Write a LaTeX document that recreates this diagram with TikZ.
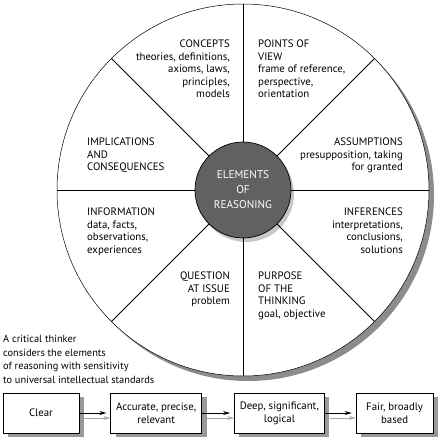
\documentclass[tikz,border=0pt]{standalone}
\usepackage{fontspec}
\setmainfont{PT Sans}
\usetikzlibrary{positioning,shadows,arrows.meta}

\begin{document}
\begin{tikzpicture}
  [x=1pt,y=-1pt,
   every node/.style={font=\fontsize{10.8}{12.5}\selectfont,inner sep=0pt},
   wheel/.style={draw,line width=0.5pt,shape=circle,fill=white,minimum size=372pt,
     drop shadow={shadow xshift=5pt,shadow yshift=-5pt,fill=black!45,opacity=1}},
   hub/.style={draw,line width=0.7pt,shape=circle,fill=black!62,minimum size=96pt,
     text=white,align=center,font=\fontsize{11.2}{15}\selectfont,
     drop shadow={shadow xshift=3pt,shadow yshift=-4pt,fill=black!22,opacity=1}},
   leftblock/.style={anchor=north west,align=left},
   rightblock/.style={anchor=north east,align=right},
   stdbox/.style={draw,line width=0.7pt,fill=white,minimum height=40pt,align=center,
     font=\fontsize{10.8}{13.3}\selectfont,
     drop shadow={shadow xshift=5pt,shadow yshift=-4pt,fill=black!40,opacity=1}},
   link/.style={-{Stealth[length=7pt,width=4pt]},line width=0.7pt,shorten >=4pt},
   linkshade/.style={draw=black!35,-{Stealth[length=7pt,width=4pt]},line width=0.7pt}]

  \useasboundingbox (0,0) rectangle (439,441);

  \node[wheel] (wheel) at (243,190) {};
  \node[hub] (hub) at (243,190) {ELEMENTS\\OF\\REASONING};

  \foreach \a in {0,45,...,315}
    \draw[line width=0.9pt] (hub.\a) -- (wheel.\a);

  \node[rightblock] (concepts) at (230,40) {CONCEPTS\\theories, definitions,\\axioms, laws,\\principles,\\models};
  \node[leftblock] (view) at (258,40) {POINTS OF\\VIEW\\frame of reference,\\perspective,\\orientation};
  \node[rightblock] (assume) at (403,138) {ASSUMPTIONS\\presupposition, taking\\for granted};
  \node[rightblock] (infer) at (403,208) {INFERENCES\\interpretations,\\conclusions,\\solutions};
  \node[leftblock] (purpose) at (258,272) {PURPOSE\\OF THE\\THINKING\\goal, objective};
  \node[rightblock] (question) at (230,272) {QUESTION\\AT ISSUE\\problem};
  \node[leftblock] (info) at (87,208) {INFORMATION\\data, facts,\\observations,\\experiences};
  \node[leftblock] (implic) at (87,138) {IMPLICATIONS\\AND\\CONSEQUENCES};

  \node[leftblock,font=\fontsize{10.4}{13.7}\selectfont] (thinker) at (3,335)
    {A critical thinker\\considers the elements\\of reasoning with sensitivity\\to universal intellectual standards};

  \node[stdbox,minimum width=76pt] (clear) at (41,413) {Clear};
  \node[stdbox,minimum width=91pt,right=31pt of clear] (accurate) {Accurate, precise,\\relevant};
  \node[stdbox,minimum width=90pt,right=32pt of accurate] (deep) {Deep, significant,\\logical};
  \node[stdbox,minimum width=77pt,right=31pt of deep] (fair) {Fair, broadly\\based};

  \foreach \s/\t in {clear/accurate,accurate/deep,deep/fair} {
    \draw[linkshade] ([xshift=5pt,yshift=-5pt]\s.east) -- ([yshift=-5pt]\t.west);
    \draw[link] (\s.east) -- (\t.west);
  }
\end{tikzpicture}
\end{document}
